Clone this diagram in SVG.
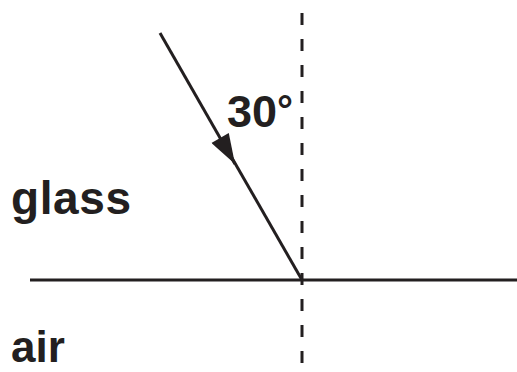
<svg xmlns="http://www.w3.org/2000/svg" width="517" height="372" viewBox="0 0 517 372">
<style>
.t{font-family:"Liberation Sans",Arial,sans-serif;font-weight:bold;fill:#231f20}
.l{stroke:#231f20;stroke-width:3;fill:none}
</style>
<defs>
<marker id="ah" viewBox="0 0 30 20" refX="30" refY="10" markerWidth="32" markerHeight="20" markerUnits="userSpaceOnUse" orient="auto">
<path d="M0,0 L30,10 L0,20 Z" fill="#231f20"/>
</marker>
</defs>
<g id="connectors">
<line class="l" x1="302" y1="13" x2="302" y2="372" stroke-dasharray="12 14"/>
<line class="l" x1="30" y1="280" x2="517" y2="280"/>
<line class="l" x1="160" y1="33" x2="235" y2="164" marker-end="url(#ah)"/>
<line class="l" x1="232" y1="158" x2="302" y2="280"/>
</g>
<g id="label-angle"><text class="t" x="227" y="127" font-size="45">30<tspan font-size="40" dy="-3">°</tspan></text></g>
<g id="label-glass"><text class="t" x="11" y="214" font-size="46" textLength="120" lengthAdjust="spacing">glass</text></g>
<g id="label-air"><text class="t" x="11" y="362" font-size="44">air</text></g>
</svg>
